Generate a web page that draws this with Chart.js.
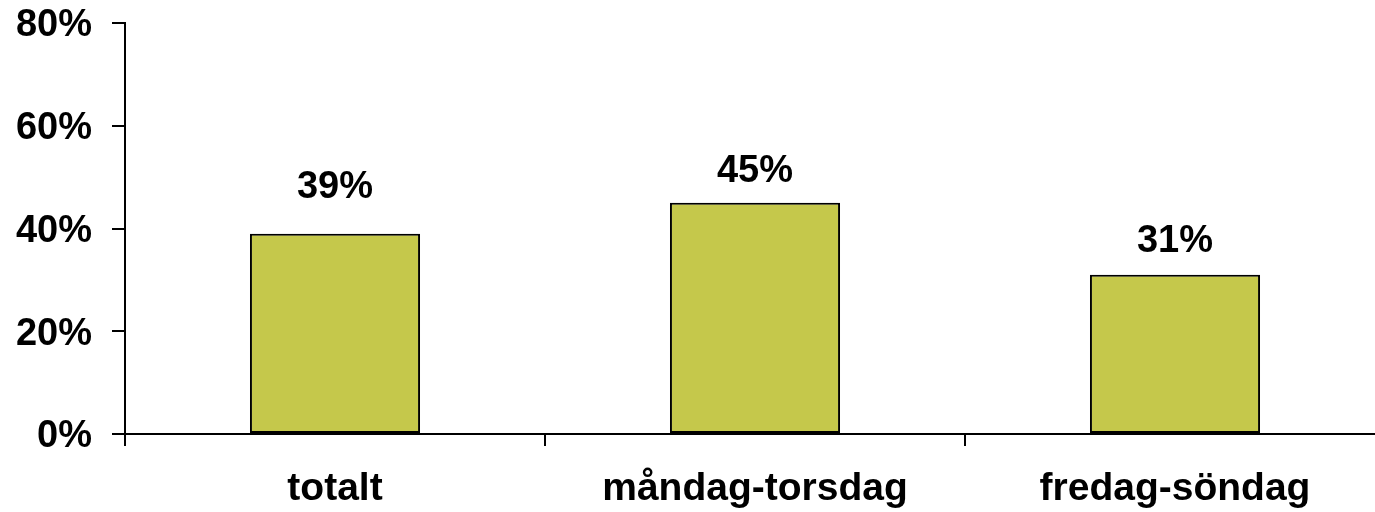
<!DOCTYPE html>
<html>
<head>
<meta charset="utf-8">
<script src="https://cdn.jsdelivr.net/npm/chart.js@4/dist/chart.umd.min.js"></script>
<style>
  html, body { margin: 0; padding: 0; background: #fff; overflow: hidden; }
  #wrap { width: 1385px; height: 512px; }
</style>
</head>
<body>
<div id="wrap"><canvas id="c"></canvas></div>
<script>
const categories = ['totalt', 'måndag-torsdag', 'fredag-söndag'];
const values = [0.39, 0.45, 0.31];
const yTicks = [0, 0.2, 0.4, 0.6, 0.8];

const pct = v => Math.round(v * 100) + '%';
const family = "'Liberation Sans', Arial, sans-serif";
const font = { family, size: 38, weight: 'bold' };
const xFont = { family, size: 39, weight: 'bold' };
// gap between bar top and label baseline (labels were hand-placed in the original)
const labelGap = [36, 21, 23];

const valueLabels = {
  id: 'valueLabels',
  afterDatasetsDraw(chart) {
    const ctx = chart.ctx;
    ctx.save();
    ctx.fillStyle = '#000';
    ctx.font = `bold ${font.size}px ${family}`;
    ctx.textAlign = 'center';
    ctx.textBaseline = 'alphabetic';
    chart.getDatasetMeta(0).data.forEach((bar, i) => {
      ctx.fillText(pct(values[i]), bar.x, bar.y - labelGap[i]);
    });
    ctx.restore();
  }
};

new Chart(document.getElementById('c'), {
  type: 'bar',
  data: {
    labels: categories,
    datasets: [{
      data: values,
      backgroundColor: '#c5c84b',
      borderColor: '#000',
      borderWidth: 2,
      borderSkipped: false,
      barPercentage: 0.405,
      categoryPercentage: 1
    }]
  },
  options: {
    responsive: true, maintainAspectRatio: false,
    animation: false,
    layout: { padding: { top: 23, left: 0, right: 0, bottom: 0 } },
    plugins: { legend: { display: false }, tooltip: { enabled: false } },
    scales: {
      x: {
        offset: true,
        grid: { offset: true, drawOnChartArea: false, drawTicks: true, tickLength: 12, color: '#000', lineWidth: 2 },
        border: { display: true, color: '#000', width: 2 },
        ticks: { color: '#000', font: xFont, padding: 20, maxRotation: 0 },
        afterFit(s) { s.height = 78; s.paddingLeft = 0; s.paddingRight = 0; }
      },
      y: {
        min: 0, max: 0.8,
        afterBuildTicks(s) { s.ticks = yTicks.map(v => ({ value: v })); },
        grid: { drawOnChartArea: false, drawTicks: true, tickLength: 13, color: '#000', lineWidth: 2 },
        border: { display: true, color: '#000', width: 2 },
        ticks: { color: '#000', font, padding: 20, labelOffset: 3, callback: v => pct(v) },
        afterFit(s) { s.width = 125; s.paddingTop = 0; s.paddingBottom = 0; }
      }
    }
  },
  plugins: [valueLabels]
});
</script>
</body>
</html>
